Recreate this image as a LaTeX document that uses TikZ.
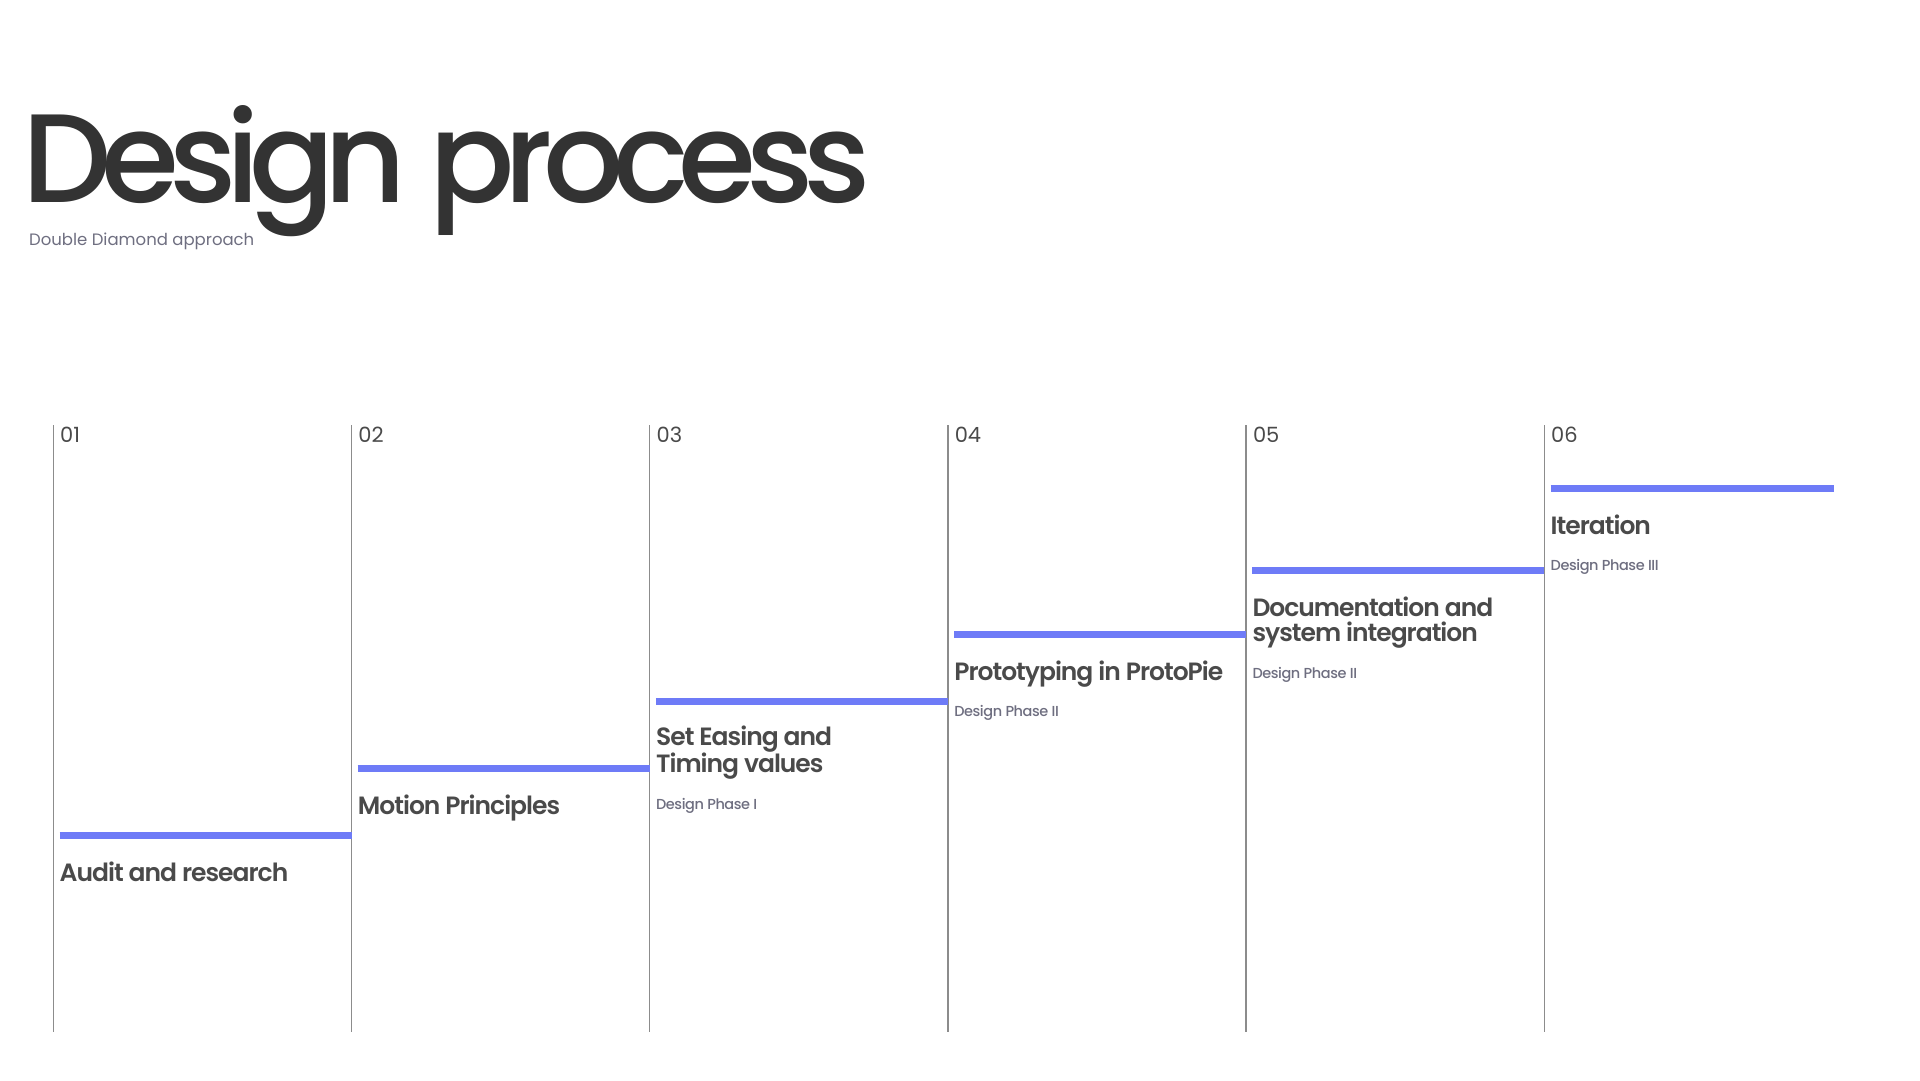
\documentclass[tikz,border=0pt]{standalone}
\usepackage{fontspec}
\setmainfont{Poppins}
\newfontfamily\popmed{Poppins Medium}[LetterSpace=-8]
\newfontfamily\popsemi{Poppins SemiBold}[LetterSpace=-4]
\newfontfamily\popphase{Poppins Medium}[LetterSpace=-3]
\definecolor{dpInk}{HTML}{333333}
\definecolor{dpText}{HTML}{4A4A4A}
\definecolor{dpMuted}{HTML}{6E6E80}
\definecolor{dpRule}{HTML}{8C8C8C}
\definecolor{dpBlue}{HTML}{6E7BF7}
\usetikzlibrary{positioning}

\begin{document}
\begin{tikzpicture}[
  x=1pt,y=-1pt,
  rule/.style={draw=dpRule,line width=1.3pt},
  bar/.style={draw=dpBlue,line width=7pt},
  stepnum/.style={anchor=base west,inner sep=0pt,text=dpText,font=\fontsize{21}{21}\selectfont},
  stepname/.style={anchor=base west,inner sep=0pt,text=dpText,align=left,
                   font=\popsemi\fontsize{25}{25}\selectfont},
  phase/.style={anchor=base west,inner sep=0pt,text=dpMuted,font=\popphase\fontsize{14.5}{14.5}\selectfont}
]
\useasboundingbox (0,0) rectangle (1920,1080);
\node[anchor=base west,inner sep=0pt,text=dpInk,font=\popmed\fontsize{126}{126}\selectfont] (title) at (22,202) {Design process};
\node[anchor=base west,inner sep=0pt,text=dpMuted,font=\fontsize{16.5}{16.5}\selectfont] (subtitle) at (29,245) {Double Diamond approach};
% columns
\foreach \i/\num in {0/01,1/02,2/03,3/04,4/05,5/06}{
  \draw[rule] (53.3+\i*298.2,425) -- (53.3+\i*298.2,1032);
  \node[stepnum] (num\i) at (60+\i*298.2,442) {\num};
}
% steps (base of a node is its last line, hence \dy)
\foreach \i/\y/\xe/\dy/\name in {0/835.5/351.5/0/Audit and research,1/768.5/649.7/0/Motion Principles,
    2/701.5/947.9/25/{Set Easing and\\Timing values},3/634/1246.1/0/Prototyping in ProtoPie,
    4/570.5/1544.3/25/{Documentation and\\system integration},5/488.5/1834/0/Iteration}{
  \draw[bar] (59.5+\i*298.2,\y) -- (\xe,\y);
  \node[stepname] (name\i) at (59.5+\i*298.2,\y+46+\dy) {\name};
}
\foreach \i/\y/\roman in {2/809/I,3/716/II,4/678/II,5/570/III}{
  \node[phase] (phase\i) at (59.5+\i*298.2,\y) {Design Phase \roman};
}
\end{tikzpicture}
\end{document}
